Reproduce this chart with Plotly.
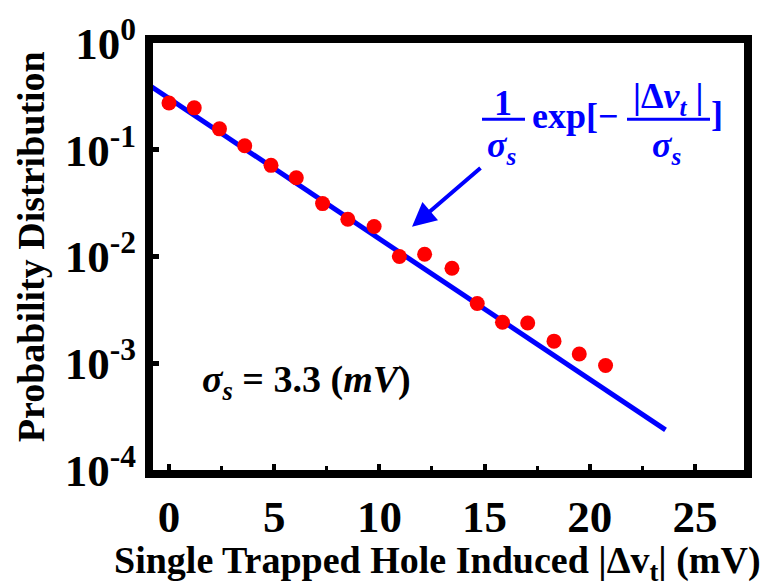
import numpy as np
import plotly.graph_objects as go

# Measured single-trap threshold voltage shifts (mV) and their probability
dvt = [0.0, 1.2, 2.4, 3.6, 4.85, 6.05, 7.3, 8.5, 9.75, 10.95, 12.15,
       13.45, 14.65, 15.85, 17.05, 18.3, 19.5, 20.75]
prob = [0.274, 0.247, 0.157, 0.109, 0.0714, 0.0547, 0.0313, 0.0223, 0.0191,
        0.0100, 0.0105, 0.00777, 0.00363, 0.00242, 0.00238, 0.00161,
        0.00122, 0.000953]

# Exponential model parameter (mV)
sigma_s = 3.3
fit_x_start, fit_x_end = -1.0, 23.6

x_ticks = [0, 5, 10, 15, 20, 25]
y_ticks = [1, 1e-1, 1e-2, 1e-3, 1e-4]
y_ticktext = ["10<sup>0</sup>", "10<sup>-1</sup>", "10<sup>-2</sup>",
              "10<sup>-3</sup>", "10<sup>-4</sup>"]

W, H = 771, 587
L, R, T, B = 153, 744, 33, 470

FONT = "Liberation Serif"
BLUE = "#0000FF"
RED = "#FF0000"

# Straight line on the log axis: (1/sigma) exp(-dv/sigma)
fit_x = np.linspace(fit_x_start, fit_x_end, 200)
fit_y = np.exp(-fit_x / sigma_s) / sigma_s

fig = go.Figure()
fig.add_trace(go.Scatter(x=fit_x, y=fit_y, mode="lines",
                         line=dict(color=BLUE, width=5), showlegend=False,
                         hoverinfo="skip"))
fig.add_trace(go.Scatter(x=dvt, y=prob, mode="markers",
                         marker=dict(color=RED, size=15, line=dict(width=0)),
                         showlegend=False))


def px(xp):
    return (xp - L) / (R - L)


def py(yp):
    return (B - yp) / (B - T)


def txt(text, xp, yp, size, color=BLUE, xanchor="center", yanchor="middle",
        angle=0):
    fig.add_annotation(text=text, x=px(xp), y=py(yp), xref="paper", yref="paper",
                       showarrow=False, xanchor=xanchor, yanchor=yanchor,
                       textangle=angle,
                       font=dict(family=FONT, size=size, color=color, weight="bold"))


# Formula: (1/sigma_s) exp[-|dv_t|/sigma_s]
fsize = 36
txt("1", 503, 94, fsize)
txt("<i>σ</i><sub><i>s</i></sub>", 501, 140, fsize)
txt("exp[−", 575, 108, fsize)
txt("|Δ<i>v</i><sub><i>t</i></sub> |", 668, 90, fsize)
txt("<i>σ</i><sub><i>s</i></sub>", 666, 140, fsize)
txt("]", 717, 106, fsize)
for x0, x1 in [(482, 525), (627, 710)]:
    fig.add_shape(type="line", xref="paper", yref="paper",
                  x0=px(x0), x1=px(x1), y0=py(111), y1=py(111),
                  line=dict(color=BLUE, width=3))

# Arrow pointing at the fitted line
fig.add_annotation(x=11.55, y=np.log10(0.019), xref="x", yref="y",
                   ax=70, ay=-60, axref="pixel", ayref="pixel",
                   text="", showarrow=True, arrowhead=2, arrowsize=1.2,
                   arrowwidth=4, arrowcolor=BLUE)

# Parameter label
txt("<i>σ</i><sub><i>s</i></sub> = 3.3 (<i>mV</i>)", 200, 380, 38,
    color="black", xanchor="left")

# Axis titles
txt("Probability Distribution", 31, 242, 38, color="black", angle=-90)
txt("Single Trapped Hole Induced |Δv<sub>t</sub>| (mV)", 437, 565, 38,
    color="black")

fig.update_xaxes(range=[-0.76, 27.33], tickvals=x_ticks, ticks="inside",
                 ticklen=6, tickwidth=4, tickcolor="black",
                 showline=True, linewidth=8, linecolor="black", mirror=True,
                 showgrid=False, zeroline=False,
                 minor=dict(ticks="inside", ticklen=4, tickwidth=3,
                            dtick=2.5, tickcolor="black", showgrid=False),
                 tickfont=dict(family=FONT, size=45, color="black", weight="bold"))
fig.update_yaxes(type="log", range=[-4, 0], tickvals=y_ticks,
                 ticktext=y_ticktext, ticks="inside", ticklen=6, tickwidth=5,
                 tickcolor="black", showline=True, linewidth=8,
                 linecolor="black", mirror=True, showgrid=False,
                 zeroline=False,
                 tickfont=dict(family=FONT, size=45, color="black", weight="bold"))

fig.update_layout(width=W, height=H, margin=dict(l=L, r=W - R, t=T, b=H - B),
                  plot_bgcolor="white", paper_bgcolor="white",
                  showlegend=False)

fig.write_html("out.html")
